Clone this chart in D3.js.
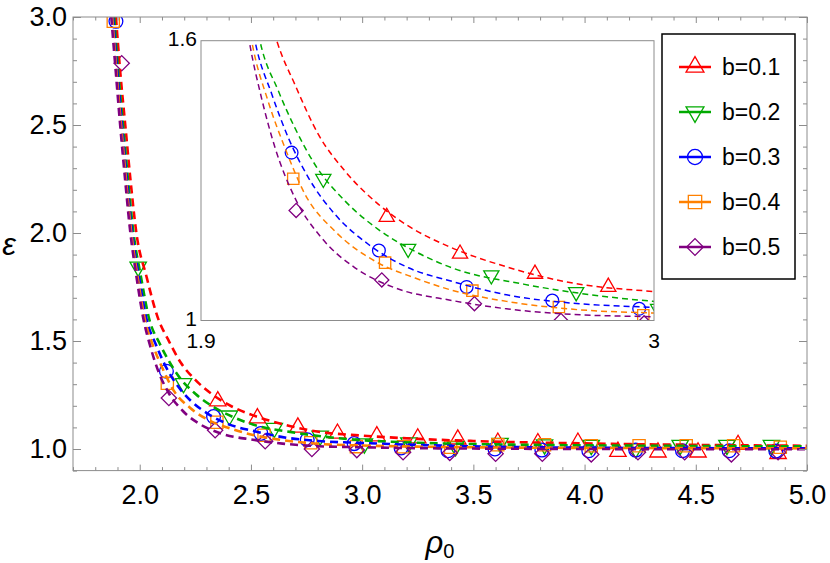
<!DOCTYPE html>
<html>
<head>
<meta charset="utf-8">
<script src="https://cdn.jsdelivr.net/npm/d3@7"></script>
<style>
body { margin: 0; background: #fff; }
text { font-family: "Liberation Sans", Arial, sans-serif; }
</style>
</head>
<body>
<script>
// ---- data ----
var labels = ["b=0.1", "b=0.2", "b=0.3", "b=0.4", "b=0.5"];

// dashed fit curves, [rho0, epsilon]
var fitB1 = [[1.893,3.0],[1.912,2.75],[1.935,2.5],[1.958,2.25],[1.985,2.0],[2.03,1.8],[2.084,1.6],[2.128,1.506],[2.185,1.399],[2.25,1.32],[2.331,1.249],[2.412,1.198],[2.501,1.159],[2.642,1.115],[2.804,1.08],[3.0,1.062],[3.25,1.047],[3.5,1.037],[4.0,1.026],[4.5,1.019],[5.0,1.015]];
var fitB2 = [[1.885,3.0],[1.903,2.75],[1.925,2.5],[1.947,2.25],[1.972,2.0],[2.005,1.8],[2.043,1.6],[2.088,1.492],[2.128,1.413],[2.177,1.334],[2.25,1.256],[2.331,1.195],[2.42,1.148],[2.509,1.113],[2.683,1.078],[2.885,1.051],[3.0,1.041],[3.25,1.029],[3.5,1.023],[4.0,1.017],[4.5,1.014],[5.0,1.012]];
var fitB3 = [[1.88,3.0],[1.899,2.75],[1.92,2.5],[1.942,2.25],[1.966,2.0],[1.996,1.8],[2.031,1.6],[2.072,1.485],[2.112,1.392],[2.161,1.306],[2.226,1.227],[2.307,1.163],[2.404,1.113],[2.509,1.084],[2.642,1.055],[2.804,1.037],[3.0,1.028],[3.25,1.019],[3.5,1.012],[4.0,1.006],[4.5,1.004],[5.0,1.003]];
var fitB4 = [[1.876,3.0],[1.895,2.75],[1.916,2.5],[1.938,2.25],[1.962,2.0],[1.99,1.8],[2.023,1.6],[2.063,1.47],[2.104,1.37],[2.153,1.27],[2.226,1.191],[2.323,1.127],[2.42,1.091],[2.509,1.065],[2.642,1.041],[2.804,1.024],[3.0,1.016],[3.25,1.011],[3.5,1.008],[4.0,1.005],[4.5,1.004],[5.0,1.003]];
var fitB5 = [[1.872,3.0],[1.892,2.75],[1.912,2.5],[1.934,2.25],[1.958,2.0],[1.985,1.8],[2.017,1.6],[2.047,1.477],[2.08,1.37],[2.128,1.263],[2.193,1.177],[2.274,1.113],[2.371,1.07],[2.509,1.043],[2.642,1.025],[2.804,1.013],[3.0,1.008],[3.25,1.004],[3.5,1.002],[4.0,1.0],[4.5,0.999],[5.0,0.999]];

// numerical points
var rhoB1 = [2.351,2.529,2.711,2.889,3.066,3.25,3.43,3.61,3.79,3.97,4.15,4.33,4.51,4.69,4.87];
var epsB1 = [1.222,1.143,1.100,1.072,1.060,1.050,1.045,1.030,1.028,1.030,0.988,0.985,0.985,1.020,0.978];
var rhoB2 = [1.993,2.197,2.403,2.605,2.811,3.01,3.21,3.42,3.62,3.82,4.03,4.23,4.43,4.64,4.84];
var epsB2 = [1.843,1.304,1.154,1.097,1.061,1.025,1.030,1.012,1.027,1.020,1.018,1.002,1.018,1.018,1.018];
var rhoB3 = [1.893,2.12,2.332,2.545,2.753,2.964,3.175,3.386,3.597,3.808,4.019,4.23,4.44,4.65,4.86];
var epsB3 = [2.98,1.360,1.150,1.072,1.043,1.025,1.005,0.992,1.000,0.995,0.992,0.995,0.992,0.992,0.990];
var rhoB4 = [1.881,2.124,2.347,2.559,2.769,2.974,3.186,3.398,3.61,3.82,4.03,4.245,4.457,4.67,4.88];
var epsB4 = [2.98,1.304,1.124,1.064,1.029,1.011,1.010,1.008,1.020,1.020,1.015,1.015,1.015,1.015,1.008];
var rhoB5 = [1.919,2.131,2.339,2.564,2.774,2.976,3.184,3.394,3.60,3.81,4.03,4.24,4.45,4.66,4.87];
var epsB5 = [2.786,1.236,1.087,1.036,1.000,0.995,0.985,0.982,0.978,0.978,0.975,0.985,0.985,0.975,0.985];

var xTicks = [2.0, 2.5, 3.0, 3.5, 4.0, 4.5, 5.0];
var yTicks = [1.0, 1.5, 2.0, 2.5, 3.0];
var insetXTicks = ["1.9", "3"];
var insetYTicks = ["1", "1.6"];

// ---- styling ----
var colors = ["#ff0000", "#00aa00", "#0000ff", "#ff8000", "#800080"];
var shapes = ["up", "down", "circle", "square", "diamond"];

var fits = [fitB1, fitB2, fitB3, fitB4, fitB5];
var rhos = [rhoB1, rhoB2, rhoB3, rhoB4, rhoB5];
var epss = [epsB1, epsB2, epsB3, epsB4, epsB5];

var w = 830, h = 563;
var svg = d3.select("body").append("svg").attr("width", w).attr("height", h);

var x = d3.scaleLinear().domain([1.7, 5.0]).range([73, 807]);
var y = d3.scaleLinear().domain([0.9, 3.0]).range([470.6, 17]);

function symbolPath(shape) {
	if (shape == "up") return d3.symbol().type(d3.symbolTriangle).size(100)();
	if (shape == "down") return d3.symbol().type(d3.symbolTriangle).size(100)();
	if (shape == "circle") return d3.symbol().type(d3.symbolCircle).size(128)();
	if (shape == "square") return d3.symbol().type(d3.symbolSquare).size(128)();
	return d3.symbol().type(d3.symbolSquare).size(100)();
}
function symbolRot(shape) {
	if (shape == "down") return 180;
	if (shape == "diamond") return 45;
	return 0;
}

svg.append("defs").append("clipPath").attr("id", "clipMain")
	.append("rect").attr("x", 73).attr("y", 17).attr("width", 734).attr("height", 453.6);

var plot = svg.append("g").attr("clip-path", "url(#clipMain)");

function drawSeries(g, xs, ys, lineW, dash, k, xMin, xMax, yMin, yMax) {
	for (var i = 0; i < 5; i++) {
		var pts = rhos[i].map(function(r, j) { return [r, epss[i][j]]; })
			.filter(function(p) { return p[0] >= xMin && p[0] <= xMax && p[1] >= yMin && p[1] <= yMax; });
		g.selectAll(".m" + i)
			.data(pts)
			.enter()
			.append("path")
			.attr("d", symbolPath(shapes[i]))
			.attr("transform", function(d) {
				return "translate(" + xs(d[0]) + "," + ys(d[1]) + ") rotate(" + symbolRot(shapes[i]) + ") scale(" + k + ")";
			})
			.attr("fill", "none")
			.attr("stroke", colors[i])
			.attr("stroke-width", 1.3 / k);
	}
	var line = d3.line()
		.x(function(d) { return xs(d[0]); })
		.y(function(d) { return ys(d[1]); })
		.curve(d3.curveMonotoneX);
	for (var i = 0; i < 5; i++) {
		g.append("path")
			.attr("d", line(fits[i]))
			.attr("fill", "none")
			.attr("stroke", colors[i])
			.attr("stroke-width", lineW)
			.attr("stroke-dasharray", dash);
	}
}

drawSeries(plot, x, y, 2.6, "8,5", 1.08, 1.7, 5.0, 0.85, 3.05);

// frame + ticks
var tickCol = "#8c8c8c";
svg.append("rect").attr("x", 73).attr("y", 17).attr("width", 734).attr("height", 453.6)
	.attr("fill", "none").attr("stroke", tickCol).attr("stroke-width", 1);

var xMinor = x.ticks(33).filter(function(d) { return xTicks.indexOf(+d.toFixed(1)) < 0; });
var yMinor = y.ticks(21).filter(function(d) { return yTicks.indexOf(+d.toFixed(1)) < 0; });

function styleAxis(g) {
	g.select(".domain").remove();
	g.selectAll(".tick line").attr("stroke", tickCol);
	g.selectAll("text").attr("font-size", "27px").attr("fill", "#000")
		.attr("font-family", "Liberation Sans, Arial, sans-serif");
}

svg.append("g").attr("transform", "translate(0,470.6)")
	.call(d3.axisBottom(x).tickValues(xTicks).tickSize(-6).tickPadding(14).tickFormat(d3.format(".1f")))
	.call(styleAxis);
svg.append("g").attr("transform", "translate(0,470.6)")
	.call(d3.axisBottom(x).tickValues(xMinor).tickSize(-3.5).tickFormat("")).call(styleAxis);
svg.append("g").attr("transform", "translate(0,17)")
	.call(d3.axisTop(x).tickValues(xTicks).tickSize(-6).tickFormat("")).call(styleAxis);
svg.append("g").attr("transform", "translate(0,17)")
	.call(d3.axisTop(x).tickValues(xMinor).tickSize(-3.5).tickFormat("")).call(styleAxis);

svg.append("g").attr("transform", "translate(73,0)")
	.call(d3.axisLeft(y).tickValues(yTicks).tickSize(-8).tickPadding(6).tickFormat(d3.format(".1f")))
	.call(styleAxis);
svg.append("g").attr("transform", "translate(73,0)")
	.call(d3.axisLeft(y).tickValues(yMinor).tickSize(-4).tickFormat("")).call(styleAxis);
svg.append("g").attr("transform", "translate(807,0)")
	.call(d3.axisRight(y).tickValues(yTicks).tickSize(-8).tickFormat("")).call(styleAxis);
svg.append("g").attr("transform", "translate(807,0)")
	.call(d3.axisRight(y).tickValues(yMinor).tickSize(-4).tickFormat("")).call(styleAxis);

// axis labels
svg.append("text").attr("x", 9).attr("y", 255).attr("text-anchor", "middle")
	.attr("font-family", "Liberation Serif, serif").attr("font-style", "italic")
	.attr("font-size", "31px").text("ε");
var xl = svg.append("text").attr("x", 440).attr("y", 553).attr("text-anchor", "middle")
	.attr("font-family", "Liberation Serif, serif").attr("font-size", "31px");
xl.append("tspan").attr("font-style", "italic").text("ρ");
xl.append("tspan").attr("font-size", "20px").attr("dy", "5").text("0");

// ---- inset ----
var xi = d3.scaleLinear().domain([1.9, 3.0]).range([201, 654]);
var yi = d3.scaleLinear().domain([1.0, 1.6]).range([320.5, 40.7]);

svg.select("defs").append("clipPath").attr("id", "clipInset")
	.append("rect").attr("x", 201).attr("y", 40.7).attr("width", 453).attr("height", 279.8);

svg.append("rect").attr("x", 201).attr("y", 40.7).attr("width", 453).attr("height", 279.8)
	.attr("fill", "#fff");
var inset = svg.append("g").attr("clip-path", "url(#clipInset)");
drawSeries(inset, xi, yi, 1.5, "6,4", 1, 1.85, 3.05, 0.98, 1.62);
svg.append("rect").attr("x", 201).attr("y", 40.7).attr("width", 453).attr("height", 279.8)
	.attr("fill", "none").attr("stroke", tickCol).attr("stroke-width", 1);

svg.selectAll(".ixl")
	.data(insetXTicks)
	.enter()
	.append("text")
	.attr("x", function(d) { return xi(+d); })
	.attr("y", 348)
	.attr("text-anchor", "middle")
	.attr("font-size", "21px")
	.text(function(d) { return d; });
svg.selectAll(".iyl")
	.data(insetYTicks)
	.enter()
	.append("text")
	.attr("x", 197)
	.attr("y", function(d) { return yi(+d) - 2; })
	.attr("dy", "0.35em")
	.attr("text-anchor", "end")
	.attr("font-size", "21px")
	.text(function(d) { return d; });

// ---- legend ----
svg.append("rect").attr("x", 662).attr("y", 34).attr("width", 133).attr("height", 245)
	.attr("fill", "#fff").attr("stroke", "#000").attr("stroke-width", 1.5);

var leg = svg.selectAll(".leg")
	.data(labels)
	.enter()
	.append("g")
	.attr("transform", function(d, i) { return "translate(0," + (67 + i * 45) + ")"; });
leg.append("line").attr("x1", 679).attr("x2", 711).attr("y1", 0).attr("y2", 0)
	.attr("stroke", function(d, i) { return colors[i]; }).attr("stroke-width", 2.5);
leg.append("path")
	.attr("d", function(d, i) { return symbolPath(shapes[i]); })
	.attr("transform", function(d, i) { return "translate(695,0) rotate(" + symbolRot(shapes[i]) + ") scale(1.18)"; })
	.attr("fill", "none")
	.attr("stroke", function(d, i) { return colors[i]; })
	.attr("stroke-width", 1.1);
leg.append("text").attr("x", 722).attr("y", 0).attr("dy", "0.35em")
	.attr("font-size", "23px").text(function(d) { return d; });
</script>
</body>
</html>
